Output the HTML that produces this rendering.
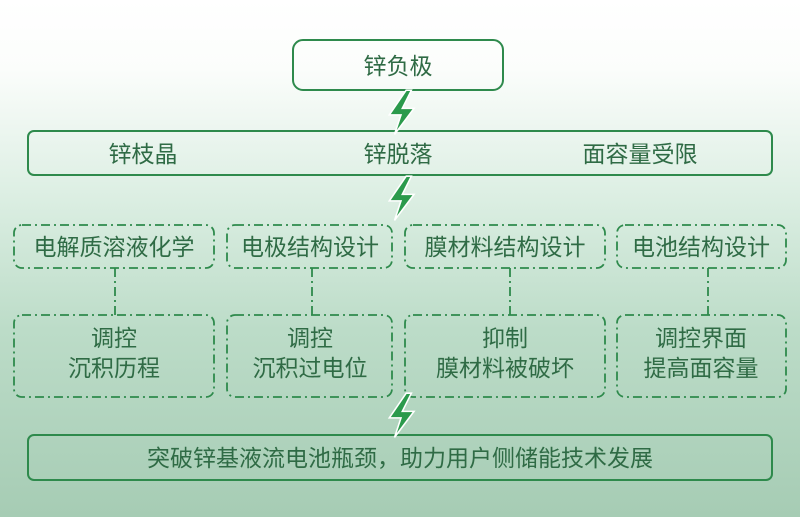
<!DOCTYPE html>
<html><head><meta charset="utf-8"><style>
html,body{margin:0;padding:0}
body{width:800px;height:517px;overflow:hidden;background:linear-gradient(180deg,#fff 0px,#fbfdfb 70px,#dbeee2 200px,#bcdcc8 330px,#a6ccb4 517px);}
svg{display:block}
text{font-family:"Liberation Sans","Noto Sans CJK SC",sans-serif;fill:#2f6b45;font-size:23px;text-anchor:middle}
</style></head><body>
<svg width="800" height="517" viewBox="0 0 800 517">
<defs>
<g id="bolt"><path d="M4,-16 L-9,3 L0,3 L-5,18 L10,-2 L1,-2 L8,-16 Z" fill="#2b9a4c" stroke="#fff" stroke-width="1.2" transform="scale(1.3)"/></g>
</defs>
<g fill="none" stroke="#2e8a4c" stroke-width="2">
<rect x="293" y="40" width="210" height="50" rx="10"/>
<rect x="28" y="131" width="744" height="44" rx="6"/>
<rect x="28" y="435" width="744" height="45" rx="6"/>
</g>
<g fill="none" stroke="#2e8a4c" stroke-width="1.8" stroke-dasharray="9,4,2,4">
<rect x="14" y="225" width="200" height="43" rx="8"/>
<rect x="227" y="225" width="165" height="43" rx="8"/>
<rect x="405" y="225" width="200" height="43" rx="8"/>
<rect x="617" y="225" width="169" height="43" rx="8"/>
<rect x="14" y="315" width="200" height="82" rx="8"/>
<rect x="227" y="315" width="165" height="82" rx="8"/>
<rect x="405" y="315" width="200" height="82" rx="8"/>
<rect x="617" y="315" width="169" height="82" rx="8"/>
<line x1="115" y1="268" x2="115" y2="315"/>
<line x1="312" y1="268" x2="312" y2="315"/>
<line x1="510" y1="268" x2="510" y2="315"/>
<line x1="708" y1="268" x2="708" y2="315"/>
</g>
<use href="#bolt" x="401" y="111"/>
<use href="#bolt" x="401" y="197"/>
<use href="#bolt" x="401" y="414"/>
<text x="398" y="74">锌负极</text>
<text x="143" y="162">锌枝晶</text>
<text x="398" y="162">锌脱落</text>
<text x="640" y="162">面容量受限</text>
<text x="114" y="255">电解质溶液化学</text>
<text x="310" y="255">电极结构设计</text>
<text x="505" y="255">膜材料结构设计</text>
<text x="701" y="255">电池结构设计</text>
<text x="114" y="346">调控</text><text x="114" y="376">沉积历程</text>
<text x="310" y="346">调控</text><text x="310" y="376">沉积过电位</text>
<text x="505" y="346">抑制</text><text x="505" y="376">膜材料被破坏</text>
<text x="701" y="346">调控界面</text><text x="701" y="376">提高面容量</text>
<text x="400" y="466">突破锌基液流电池瓶颈，助力用户侧储能技术发展</text>
</svg>
</body></html>
